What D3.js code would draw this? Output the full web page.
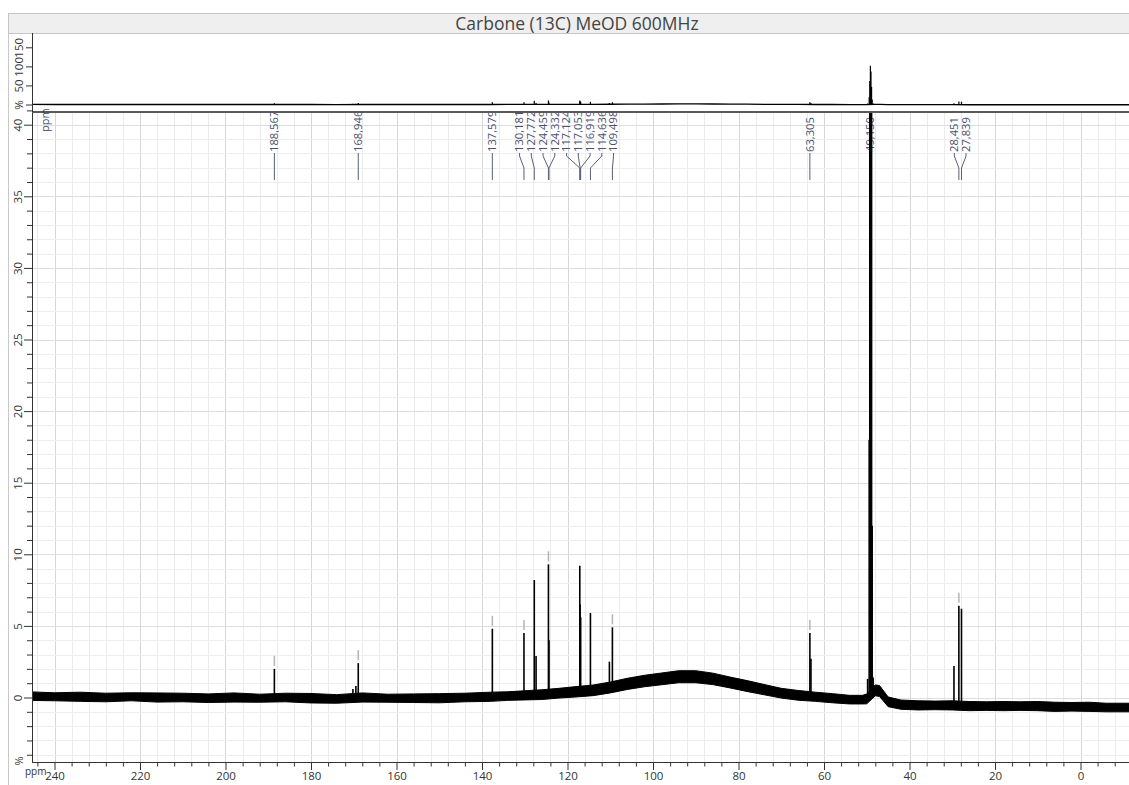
<!DOCTYPE html>
<html>
<head>
<meta charset="utf-8">
<script src="https://cdn.jsdelivr.net/npm/d3@7"></script>
<style>
  body { margin: 0; background: #fff; }
  text { font-family: "Open Sans", "DejaVu Sans", sans-serif; }
</style>
</head>
<body>
<script>
//Data
    const title = "Carbone (13C) MeOD 600MHz";

    // noisy baseline: ppm, middle level (%), half thickness of the noise (%)
    const basePpm    = [246, 240, 234, 228, 222, 216, 210, 204, 198, 192, 186, 180, 174, 168, 162, 156, 150, 144, 138, 134, 130, 126, 122, 118, 114, 110, 106, 102, 98, 94, 90, 86, 82, 78, 74, 70, 66, 62, 58, 54, 51, 50, 48, 47, 45, 42, 38, 34, 30, 26, 22, 18, 14, 10, 6, 2, -2, -6, -12];
    const baseMid    = [0.1, 0.05, 0.05, 0, 0.05, 0, 0, -0.05, 0, -0.05, 0, -0.05, -0.1, 0, -0.05, -0.05, -0.05, 0, 0.05, 0.1, 0.15, 0.2, 0.3, 0.4, 0.5, 0.7, 0.95, 1.15, 1.3, 1.45, 1.45, 1.3, 1.05, 0.8, 0.55, 0.3, 0.15, 0.05, -0.05, -0.15, -0.15, -0.1, 0.5, 0.45, -0.3, -0.5, -0.55, -0.55, -0.55, -0.6, -0.6, -0.6, -0.6, -0.6, -0.65, -0.65, -0.65, -0.7, -0.7];
    const baseSpread = [0.3, 0.28, 0.32, 0.3, 0.28, 0.32, 0.3, 0.3, 0.32, 0.28, 0.3, 0.33, 0.3, 0.32, 0.28, 0.3, 0.32, 0.3, 0.32, 0.3, 0.32, 0.34, 0.34, 0.36, 0.37, 0.38, 0.39, 0.4, 0.41, 0.42, 0.42, 0.4, 0.38, 0.38, 0.36, 0.34, 0.34, 0.32, 0.32, 0.3, 0.3, 0.34, 0.38, 0.38, 0.34, 0.32, 0.32, 0.3, 0.32, 0.32, 0.3, 0.32, 0.3, 0.32, 0.32, 0.3, 0.32, 0.3, 0.3];

    // peaks: position (ppm) and top (%)
    const peakPpm = [188.567, 170.2, 169.5, 168.946, 137.579, 130.181, 127.772, 127.35, 124.459, 124.332, 117.124, 117.053, 116.919, 114.636, 110.2, 109.498, 63.305, 63.05, 49.8, 49.43, 49.29, 49.15, 49.01, 48.87, 48.73, 48.5, 29.6, 28.451, 27.839];
    const peakTop = [2.0, 0.6, 0.8, 2.4, 4.8, 4.5, 8.2, 2.9, 9.3, 4.0, 9.2, 6.5, 5.6, 5.9, 2.5, 4.9, 4.5, 2.7, 1.3, 18, 60, 100, 85, 45, 12, 1.4, 2.2, 6.4, 6.2];

    // picked peaks (labels) and the ones with a marker tick above them
    const labelPpm  = [188.567, 168.946, 137.579, 130.181, 127.772, 124.459, 124.332, 117.124, 117.053, 116.919, 114.636, 109.498, 63.305, 49.150, 28.451, 27.839];
    const markedPpm = [188.567, 168.946, 137.579, 130.181, 124.459, 109.498, 63.305, 28.451];

    // axes
    const xTicks = [240, 220, 200, 180, 160, 140, 120, 100, 80, 60, 40, 20, 0];
    const yTicks = [0, 5, 10, 15, 20, 25, 30, 35, 40];
    const yTopTicks = [0, 50, 100, 150];

//Layout
    const width = 1129;
    const height = 785;
    const left = 32;
    const right = 1129;
    const topPanel = {top: 33, bottom: 112};
    const mainPanel = {top: 113, bottom: 762};
    const labelColor = "#4b5170";

//Scales
    const xScale = d3.scaleLinear().domain([240, 0]).range([54.5, 1080.5]);
    const yScale = d3.scaleLinear().domain([0, 40]).range([697.5, 124.7]);
    const yTopScale = d3.scaleLinear().domain([0, 150]).range([104.5, 47.3]);

    const baseData = basePpm.map((p, i) => ({ppm: p, mid: baseMid[i], spread: baseSpread[i]}));
    const peaks = peakPpm.map((p, i) => ({ppm: p, top: peakTop[i]}));
    const baseAt = ppm => {
        const i = d3.bisector(d => -d.ppm).left(baseData, -ppm);
        if (i <= 0) return baseData[0].mid;
        if (i >= baseData.length) return baseData[baseData.length - 1].mid;
        const a = baseData[i - 1], b = baseData[i];
        return a.mid + (b.mid - a.mid) * (a.ppm - ppm) / (a.ppm - b.ppm);
    };

//SVG
    const svg = d3.select("body").append("svg")
        .attr("width", width)
        .attr("height", height);

    const defs = svg.append("defs");
    defs.append("clipPath").attr("id", "clipMain")
        .append("rect").attr("x", left).attr("y", mainPanel.top)
        .attr("width", right - left).attr("height", mainPanel.bottom - mainPanel.top);
    defs.append("clipPath").attr("id", "clipTop")
        .append("rect").attr("x", left).attr("y", topPanel.top)
        .attr("width", right - left).attr("height", topPanel.bottom - topPanel.top);

    // frame + title bar
    svg.append("line")
        .attr("x1", 8.5).attr("x2", 8.5).attr("y1", 13).attr("y2", height)
        .attr("stroke", "#c8c8c8");
    svg.append("rect")
        .attr("x", 8.5).attr("y", 13.5).attr("width", width).attr("height", 20)
        .attr("fill", "#efefef").attr("stroke", "#c4c4c4");
    svg.append("text")
        .attr("x", 577).attr("y", 29.5)
        .attr("text-anchor", "middle")
        .attr("font-size", 17.5)
        .attr("fill", "#444")
        .text(title);

//Grid (main panel only)
    const grid = svg.append("g").attr("clip-path", "url(#clipMain)");
    grid.selectAll(".vgrid")
        .data(d3.range(-12, 248, 4))
        .enter().append("line")
        .attr("x1", d => Math.round(xScale(d)) + 0.5)
        .attr("x2", d => Math.round(xScale(d)) + 0.5)
        .attr("y1", mainPanel.top).attr("y2", mainPanel.bottom)
        .attr("stroke", d => d % 20 === 0 ? "#d6d6d6" : "#ebebeb");
    grid.selectAll(".hgrid")
        .data(d3.range(-4, 42, 1))
        .enter().append("line")
        .attr("x1", left).attr("x2", right)
        .attr("y1", d => Math.round(yScale(d)) + 0.5)
        .attr("y2", d => Math.round(yScale(d)) + 0.5)
        .attr("stroke", d => d % 5 === 0 ? "#dedede" : "#eeeeee");

//Peak labels
    const gap = 11.75;
    function spread(xs) {
        let groups = xs.map(x => ({xs: [x], start: x}));
        let merged = true;
        while (merged) {
            merged = false;
            for (let i = 0; i < groups.length - 1; i++) {
                const a = groups[i], b = groups[i + 1];
                if (a.start + a.xs.length * gap > b.start) {
                    const all = a.xs.concat(b.xs);
                    groups.splice(i, 2, {xs: all, start: d3.mean(all) - (all.length - 1) * gap / 2});
                    merged = true;
                    break;
                }
            }
        }
        return groups.flatMap(g => g.xs.map((_, k) => g.start + k * gap));
    }
    const peakX = labelPpm.map(p => xScale(p));
    const labelX = spread(peakX);
    const fmt = d3.format(".3f");

    const labels = svg.append("g").attr("clip-path", "url(#clipMain)");
    labels.selectAll("path")
        .data(labelPpm)
        .enter().append("path")
        .attr("d", (d, i) => `M${labelX[i]},153 V156 L${peakX[i]},168 V180`)
        .attr("fill", "none")
        .attr("stroke", "#5a5f78")
        .attr("stroke-width", 1);
    labels.selectAll("text")
        .data(labelPpm)
        .enter().append("text")
        .attr("transform", (d, i) => `translate(${labelX[i]},152) rotate(-90)`)
        .attr("dy", "0.35em")
        .attr("font-size", 11.2)
        .attr("fill", labelColor)
        .text(d => fmt(d).replace(".", ","));
    svg.append("text")
        .attr("transform", "translate(45,132) rotate(-90)")
        .attr("dy", "0.35em")
        .attr("font-size", 11)
        .attr("fill", labelColor)
        .text("ppm");

//Main spectrum
    const main = svg.append("g").attr("clip-path", "url(#clipMain)");
    // peak markers
    main.selectAll(".marker")
        .data(markedPpm)
        .enter().append("line")
        .attr("x1", d => xScale(d)).attr("x2", d => xScale(d))
        .attr("y1", d => yScale(peaks.find(p => p.ppm === d).top) - 3)
        .attr("y2", d => yScale(peaks.find(p => p.ppm === d).top) - 13)
        .attr("stroke", "#b4b4b4")
        .attr("stroke-width", 1.5);

    const band = d3.area()
        .x(d => xScale(d.ppm))
        .y0(d => yScale(d.mid - d.spread))
        .y1(d => yScale(d.mid + d.spread));
    main.append("path")
        .datum(baseData)
        .attr("d", band)
        .attr("fill", "#000")
        .attr("stroke", "#000")
        .attr("stroke-width", 1);

    main.selectAll(".peak")
        .data(peaks)
        .enter().append("line")
        .attr("x1", d => xScale(d.ppm)).attr("x2", d => xScale(d.ppm))
        .attr("y1", d => yScale(baseAt(d.ppm)))
        .attr("y2", d => yScale(d.top))
        .attr("stroke", "#000")
        .attr("stroke-width", 1.6);

//Top (overview) spectrum
    const topG = svg.append("g").attr("clip-path", "url(#clipTop)");
    topG.append("path")
        .datum(baseData)
        .attr("d", d3.line().x(d => xScale(d.ppm)).y(d => yTopScale(d.mid)))
        .attr("fill", "none")
        .attr("stroke", "#000")
        .attr("stroke-width", 1.3);
    topG.selectAll(".peak")
        .data(peaks)
        .enter().append("line")
        .attr("x1", d => xScale(d.ppm)).attr("x2", d => xScale(d.ppm))
        .attr("y1", d => yTopScale(baseAt(d.ppm)))
        .attr("y2", d => yTopScale(d.top) - 0.5)
        .attr("stroke", "#000")
        .attr("stroke-width", 1.2);

//Axes
    const axisColor = "#333";
    const style = g => {
        g.selectAll("path, line").attr("stroke", axisColor);
        g.selectAll("text").attr("fill", axisColor).attr("font-size", 11.5)
            .attr("font-family", "'Open Sans', 'DejaVu Sans', sans-serif");
    };

    // bottom
    svg.append("g")
        .attr("transform", `translate(0,${mainPanel.bottom})`)
        .call(d3.axisBottom(xScale).tickValues(d3.range(-8, 246, 4).filter(d => d % 20 !== 0)).tickSize(4.5).tickFormat(""))
        .call(g => g.select(".domain").remove())
        .call(style);
    svg.append("g")
        .attr("transform", `translate(0,${mainPanel.bottom})`)
        .call(d3.axisBottom(xScale).tickValues(xTicks).tickSize(8).tickSizeOuter(0).tickPadding(1.5))
        .call(g => g.select(".domain").attr("d", `M${left},0.5H${right}`))
        .call(style);
    svg.append("text")
        .attr("x", 25).attr("y", 775)
        .attr("font-size", 10).attr("fill", axisColor)
        .text("ppm");

    // left, main panel
    svg.append("g")
        .attr("transform", `translate(${left},0)`)
        .call(d3.axisLeft(yScale).tickValues(d3.range(-4, 42, 1).filter(d => d % 5 !== 0)).tickSize(5).tickFormat(""))
        .call(g => g.select(".domain").remove())
        .call(style);
    svg.append("g")
        .attr("transform", `translate(${left},0)`)
        .call(d3.axisLeft(yScale).tickValues(yTicks).tickSize(8).tickSizeOuter(0))
        .call(g => g.select(".domain").attr("d", `M0.5,${mainPanel.top}V${mainPanel.bottom}`))
        .call(style)
        .call(g => g.selectAll(".tick text")
            .attr("transform", "rotate(-90)")
            .attr("x", 0).attr("y", -14).attr("dy", "0.35em")
            .attr("text-anchor", "middle"));
    svg.append("text")
        .attr("transform", `translate(${left - 13},${mainPanel.bottom - 1}) rotate(-90)`)
        .attr("dy", "0.35em")
        .attr("text-anchor", "middle")
        .attr("font-size", 11).attr("fill", axisColor)
        .text("%");

    // left, top panel
    svg.append("g")
        .attr("transform", `translate(${left},0)`)
        .call(d3.axisLeft(yTopScale).tickValues(yTopTicks).tickSize(6).tickSizeOuter(0)
            .tickFormat(d => d === 0 ? "%" : d))
        .call(g => g.select(".domain").attr("d", `M0.5,${topPanel.top}V${topPanel.bottom}`))
        .call(style)
        .call(g => g.selectAll(".tick text")
            .attr("transform", "rotate(-90)")
            .attr("x", 0).attr("y", -13).attr("dy", "0.35em")
            .attr("text-anchor", "middle"));

    // panel separator
    svg.append("line")
        .attr("x1", left).attr("x2", right)
        .attr("y1", topPanel.bottom).attr("y2", topPanel.bottom)
        .attr("stroke", "#222").attr("stroke-width", 1.5);
</script>
</body>
</html>
